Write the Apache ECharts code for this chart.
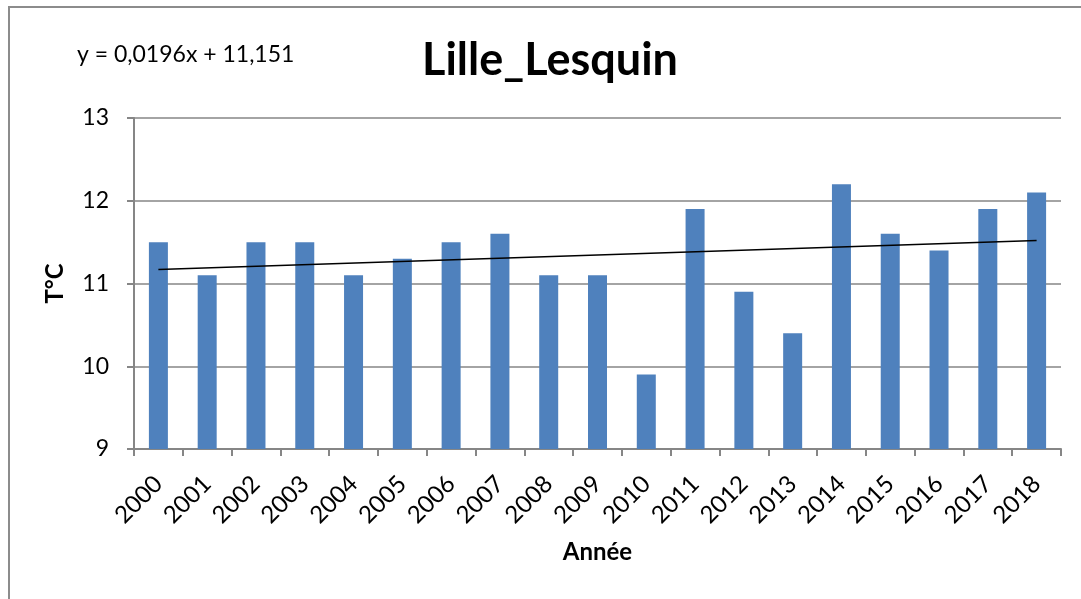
<!DOCTYPE html>
<html lang="fr">
<head>
	<meta charset="UTF-8">
	<title>Lille_Lesquin</title>
	<style>
		html,body{margin:0;padding:0;background:#fff;overflow:hidden;}
		#main{width:1081px;height:599px;}
	</style>
</head>
<body>
	<div id="main"></div>
	<script src="https://cdn.jsdelivr.net/npm/echarts@6/dist/echarts.min.js"></script>
	<script>
		// années et températures moyennes
		var years = ['2000','2001','2002','2003','2004','2005','2006','2007','2008','2009',
			'2010','2011','2012','2013','2014','2015','2016','2017','2018'];
		var temps = [11.5, 11.1, 11.5, 11.5, 11.1, 11.3, 11.5, 11.6, 11.1, 11.1,
			9.9, 11.9, 10.9, 10.4, 12.2, 11.6, 11.4, 11.9, 12.1];
		// courbe de tendance (extrémités)
		var trendStart = 11.17;
		var trendEnd = 11.52;
		var yTicks = [9, 13, 1];
		var equation = 'y = 0,0196x + 11,151';

		var font = 'Lato, "Open Sans", sans-serif';
		var chart = echarts.init(document.getElementById('main'));
		chart.setOption({
			animation: false,
			textStyle: {fontFamily: font},
			graphic: [
				{type: 'rect', shape: {x: 9, y: 7, width: 1200, height: 700}, style: {fill: 'none', stroke: '#8c8c8c', lineWidth: 2}},
				{type: 'text', left: 77, top: 43, style: {text: equation, font: '23px ' + font, fill: '#000'}}
			],
			title: {
				text: 'Lille_Lesquin',
				left: 417,
				top: 33,
				textStyle: {fontSize: 45, fontWeight: 'bold', color: '#000', fontFamily: font}
			},
			grid: {left: 134, right: 20, top: 118, bottom: 150},
			xAxis: {
				type: 'category',
				data: years,
				name: 'Année',
				nameLocation: 'middle',
				nameGap: 91,
				nameTextStyle: {fontSize: 24, fontWeight: 'bold', color: '#000'},
				axisLine: {lineStyle: {color: '#868686', width: 2}},
				axisTick: {show: true, length: 7, lineStyle: {color: '#868686', width: 2}},
				axisLabel: {rotate: 45, fontSize: 24, color: '#000', margin: 31}
			},
			yAxis: {
				type: 'value',
				min: yTicks[0],
				max: yTicks[1],
				interval: yTicks[2],
				name: 'T°C',
				nameLocation: 'middle',
				nameGap: 67,
				nameTextStyle: {fontSize: 24, fontWeight: 'bold', color: '#000'},
				axisLine: {show: true, lineStyle: {color: '#868686', width: 2}},
				axisTick: {show: true, length: 7, lineStyle: {color: '#868686', width: 2}},
				axisLabel: {fontSize: 23, color: '#000', margin: 25},
				splitLine: {lineStyle: {color: '#868686', width: 1.5}}
			},
			series: [{
				type: 'bar',
				data: temps,
				barWidth: 19,
				itemStyle: {color: '#4F81BD'},
				markLine: {
					silent: true,
					symbol: 'none',
					label: {show: false},
					lineStyle: {color: '#000', width: 1.5, type: 'solid'},
					data: [[{coord: [years[0], trendStart]}, {coord: [years[years.length - 1], trendEnd]}]]
				}
			}]
		});
	</script>
</body>
</html>
